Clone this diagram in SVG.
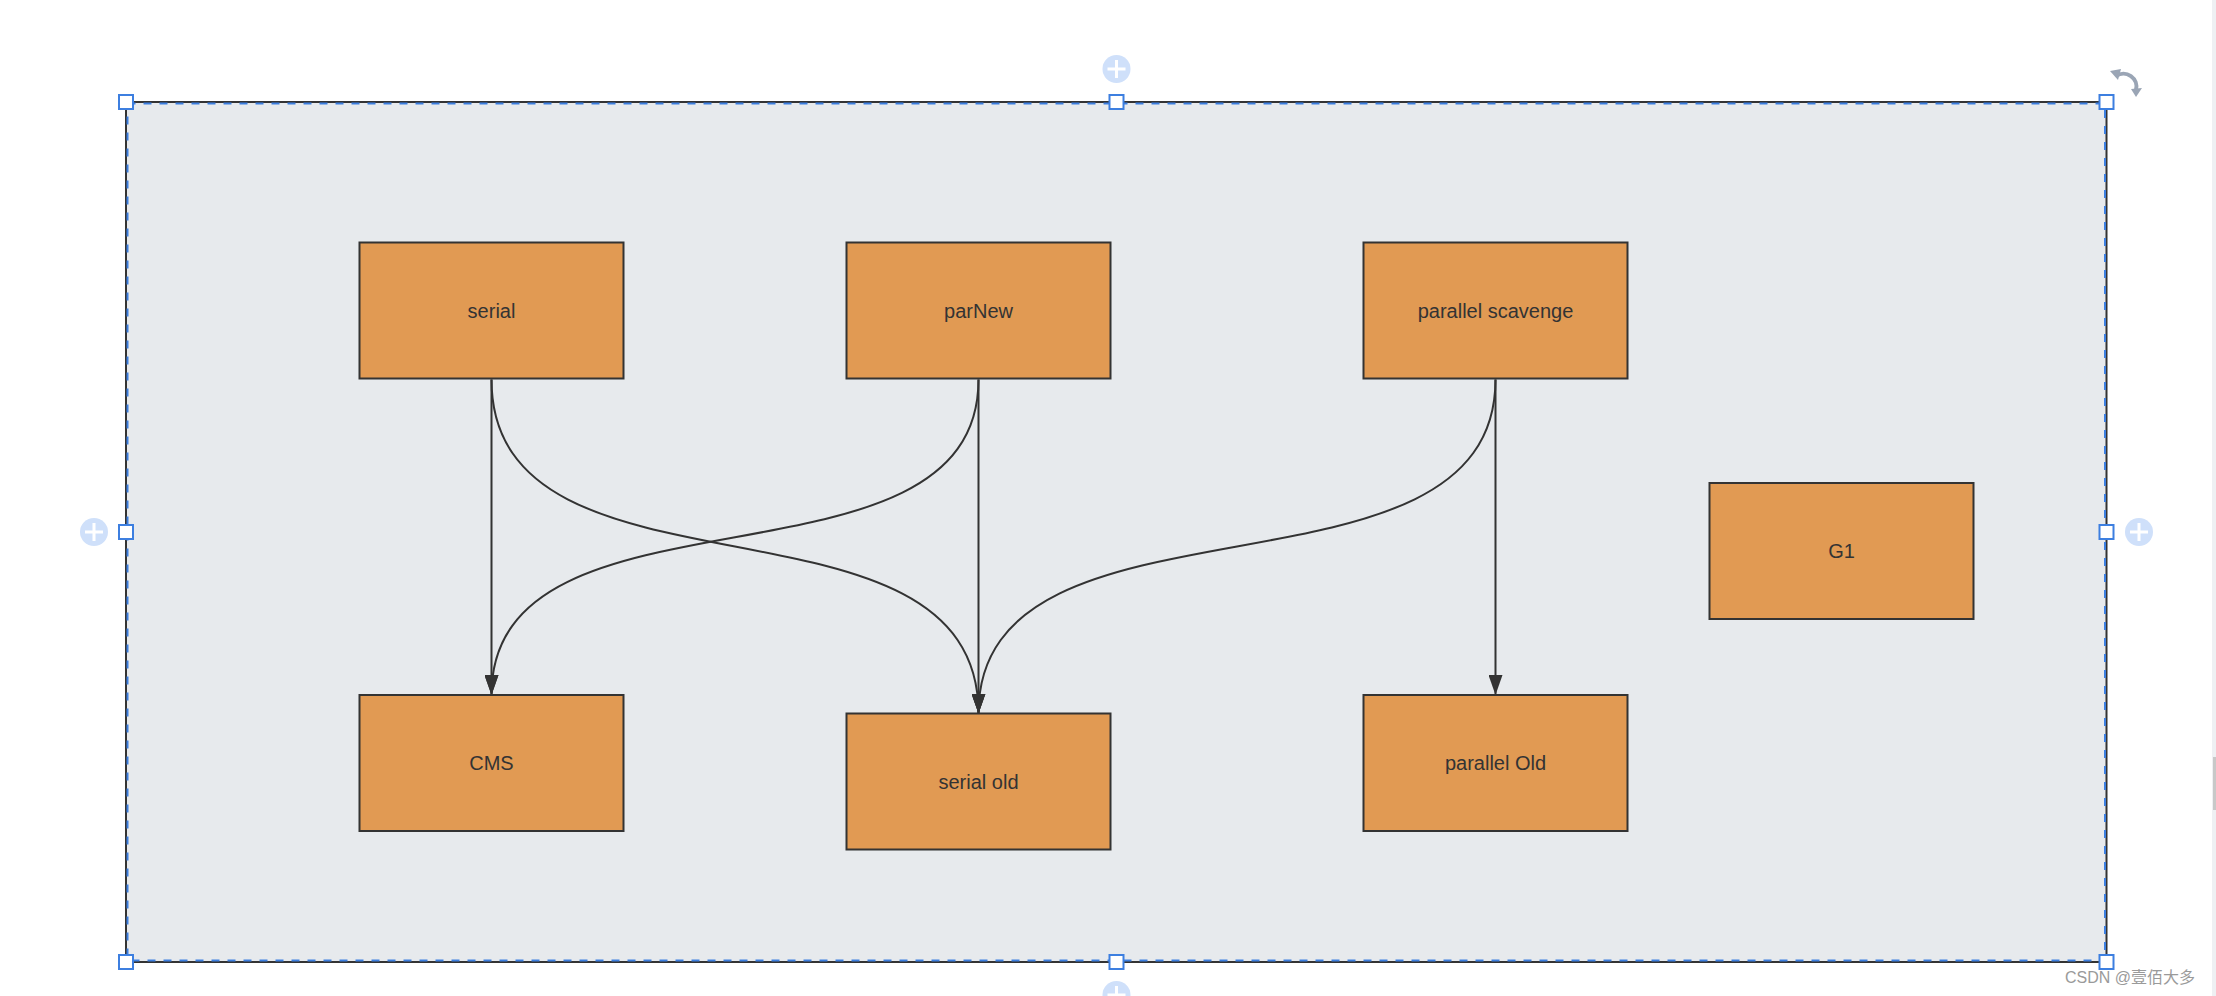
<svg xmlns="http://www.w3.org/2000/svg" width="2216" height="996" viewBox="0 0 2216 996">
<style>
.node rect{fill:#e19a53;stroke:#333;stroke-width:2}
.node text{font-family:"Liberation Sans",Arial,sans-serif;font-size:20px;fill:#333;text-anchor:middle}
.conn path{fill:none;stroke:#333;stroke-width:2;marker-end:url(#arr)}
.handle{fill:#fff;stroke:#3d7fe0;stroke-width:2}
.plus circle{fill:#cfe0fa}
.plus path{stroke:#fff;stroke-width:3;fill:none}
</style>
<defs>
<marker id="arr" viewBox="0 0 20 14" refX="20" refY="7" markerWidth="20" markerHeight="14" markerUnits="userSpaceOnUse" orient="auto">
<path d="M0,0 L20,7 L0,14 z" fill="#333"/>
</marker>
</defs>
<rect width="2216" height="996" fill="#fff"/>
<rect x="2212" y="0" width="4" height="996" fill="#eef0f3"/>
<rect x="2213" y="757" width="3" height="53" fill="#c8c8c8"/>
<g id="frame">
<rect x="126" y="102" width="1980.5" height="860" fill="#e7eaed" stroke="#333" stroke-width="2"/>
<rect x="127.5" y="103.5" width="1977.5" height="857" fill="none" stroke="#3d7fe0" stroke-width="2" stroke-dasharray="8 8"/>
</g>
<g id="connectors" class="conn">
<path d="M491.5 379.5 L491.5 695"/>
<path d="M491.5 379.5 C491.5 620 978.5 473 978.5 713.5"/>
<path d="M978.5 379.5 C978.5 606.5 491.5 468 491.5 695"/>
<path d="M978.5 379.5 L978.5 713.5"/>
<path d="M1495.5 379.5 C1495.5 620 978.5 473 978.5 713.5"/>
<path d="M1495.5 379.5 L1495.5 695"/>
</g>
<g id="serial" class="node"><rect x="359.5" y="242.5" width="264" height="136"/><text x="491.5" y="318">serial</text></g>
<g id="parNew" class="node"><rect x="846.5" y="242.5" width="264" height="136"/><text x="978.5" y="318">parNew</text></g>
<g id="parallel-scavenge" class="node"><rect x="1363.5" y="242.5" width="264" height="136"/><text x="1495.5" y="318">parallel scavenge</text></g>
<g id="G1" class="node"><rect x="1709.5" y="483" width="264" height="136"/><text x="1841.5" y="558">G1</text></g>
<g id="CMS" class="node"><rect x="359.5" y="695" width="264" height="136"/><text x="491.5" y="770">CMS</text></g>
<g id="serial-old" class="node"><rect x="846.5" y="713.5" width="264" height="136"/><text x="978.5" y="788.5">serial old</text></g>
<g id="parallel-Old" class="node"><rect x="1363.5" y="695" width="264" height="136"/><text x="1495.5" y="770">parallel Old</text></g>
<g id="handles">
<rect class="handle" x="119" y="95" width="14" height="14"/>
<rect class="handle" x="1109.5" y="95" width="14" height="14"/>
<rect class="handle" x="2099.5" y="95" width="14" height="14"/>
<rect class="handle" x="119" y="525" width="14" height="14"/>
<rect class="handle" x="2099.5" y="525" width="14" height="14"/>
<rect class="handle" x="119" y="955" width="14" height="14"/>
<rect class="handle" x="1109.5" y="955" width="14" height="14"/>
<rect class="handle" x="2099.5" y="955" width="14" height="14"/>
</g>
<g id="plus-buttons" class="plus">
<g><circle cx="1116.5" cy="69" r="14"/><path d="M1107.5 69 H1125.5 M1116.5 60 V78"/></g>
<g><circle cx="94" cy="532" r="14"/><path d="M85 532 H103 M94 523 V541"/></g>
<g><circle cx="2139" cy="532" r="14"/><path d="M2130 532 H2148 M2139 523 V541"/></g>
<g><circle cx="1116.5" cy="995" r="14"/><path d="M1107.5 995 H1125.5 M1116.5 986 V1004"/></g>
</g>
<g id="rotate">
<path d="M2116 76 A13 13 0 0 1 2136 90" fill="none" stroke="#9aa5b5" stroke-width="4"/>
<path d="M2110 71 L2121 69 L2118 80 z" fill="#9aa5b5"/>
<path d="M2131 89 L2142 88 L2136 97 z" fill="#9aa5b5"/>
</g>
<text x="2065" y="983" font-family="'Liberation Sans','Noto Sans CJK SC',sans-serif" font-size="16" fill="#9a9a9a">CSDN @壹佰大多</text>
</svg>
